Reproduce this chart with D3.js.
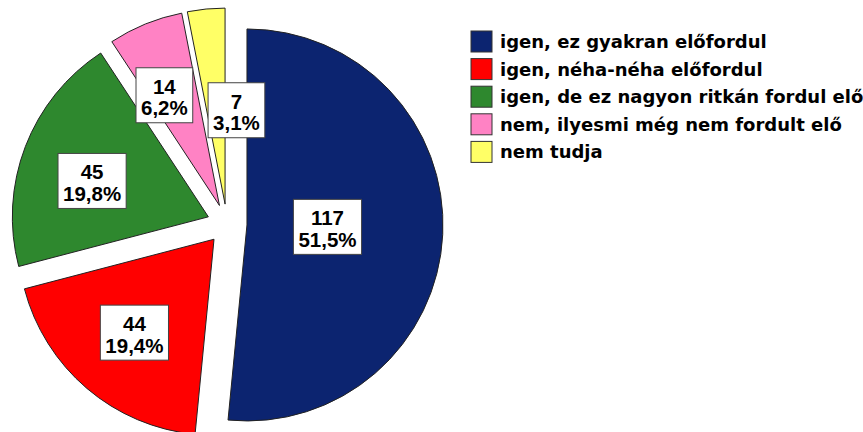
<!DOCTYPE html>
<html>
<head>
<meta charset="utf-8">
<script src="https://cdn.jsdelivr.net/npm/d3@7"></script>
<style>
  body { margin: 0; background: #fff; }
  svg { display: block; }
</style>
</head>
<body>
<svg id="pie_svg" width="863" height="432"></svg>
<script>
const categories = [
  "igen, ez gyakran előfordul",
  "igen, néha-néha előfordul",
  "igen, de ez nagyon ritkán fordul elő",
  "nem, ilyesmi még nem fordult elő",
  "nem tudja",
];
const counts = [117, 44, 45, 14, 7];
const colors = ["#0c2470", "#ff0000", "#2e882e", "#ff82c4", "#ffff66"];

// label shifts (px) where the chart moved a label off the centroid
const labelNudge = [[0, -2], [0, 0], [-2, 8], [-6, 10], [24, 36]];

const width = 863, height = 432;
const cx = 227, cy = 224, radius = 196, explode = 20;

const svg = d3.select("#pie_svg");
const total = d3.sum(counts);
const fmtPct = (v) => (v / total * 100).toFixed(1).replace(".", ",") + "%";

const pie = d3.pie().sort(null).value((d) => d)(counts);
const arc = d3.arc().innerRadius(0).outerRadius(radius);

const g = svg.append("g").attr("transform", `translate(${cx},${cy})`);

const slices = g.selectAll(".slice")
  .data(pie)
  .enter()
  .append("g")
  .attr("class", "slice")
  .attr("transform", (d) => {
    const mid = (d.startAngle + d.endAngle) / 2;
    return `translate(${explode * Math.sin(mid)},${-explode * Math.cos(mid)})`;
  });

slices.append("path")
  .attr("d", arc)
  .attr("fill", (d, i) => colors[i])
  .attr("stroke", "#222")
  .attr("stroke-width", 1)
  .attr("stroke-linejoin", "round");

// labels at the sector centroid
slices.each(function (d, i) {
  const half = (d.endAngle - d.startAngle) / 2;
  const mid = d.startAngle + half;
  const dist = (2 * radius * Math.sin(half)) / (3 * half);
  const lx = dist * Math.sin(mid) + labelNudge[i][0];
  const ly = -dist * Math.cos(mid) + labelNudge[i][1];
  const lg = d3.select(this).append("g").attr("transform", `translate(${lx},${ly})`);
  const box = lg.append("rect");
  const txt = lg.append("text")
    .attr("text-anchor", "middle")
    .attr("font-family", "'Liberation Sans', Arial, sans-serif")
    .attr("font-weight", "bold")
    .attr("font-size", "20.5px")
    .attr("fill", "#000");
  txt.append("tspan").attr("x", 0).attr("y", -1.5).text(counts[i]);
  txt.append("tspan").attr("x", 0).attr("y", 20).text(fmtPct(counts[i]));
  const bb = txt.node().getBBox();
  box.attr("x", bb.x - 5)
    .attr("y", -27.5)
    .attr("width", bb.width + 10)
    .attr("height", 55)
    .attr("fill", "#fff")
    .attr("stroke", "#444")
    .attr("stroke-width", 1);
});

// legend
const legend = svg.append("g").attr("transform", "translate(471,31)");
const rows = legend.selectAll(".row")
  .data(categories)
  .enter()
  .append("g")
  .attr("class", "row")
  .attr("transform", (d, i) => `translate(0,${i * 27.6})`);

rows.append("rect")
  .attr("width", 21)
  .attr("height", 21)
  .attr("fill", (d, i) => colors[i])
  .attr("stroke", "#333")
  .attr("stroke-width", 1);

rows.append("text")
  .attr("x", 29)
  .attr("y", 17)
  .attr("font-family", "'DejaVu Sans', Verdana, sans-serif")
  .attr("font-weight", "bold")
  .attr("font-size", "18px")
  .attr("fill", "#000")
  .text((d) => d);
</script>
</body>
</html>
